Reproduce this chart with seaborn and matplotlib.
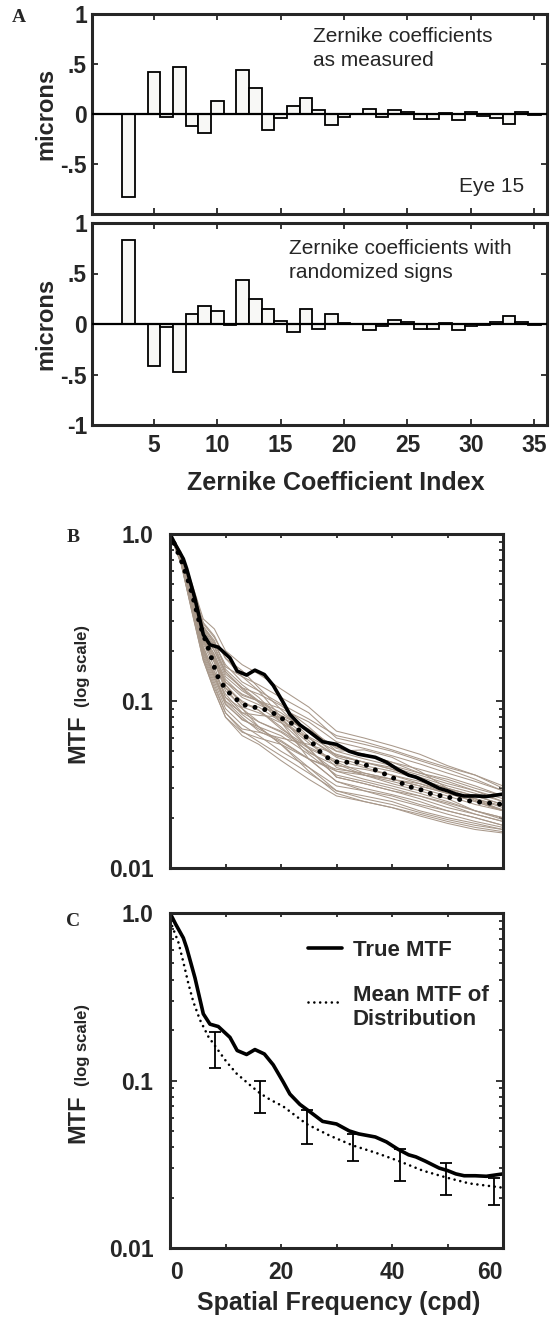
import pandas as pd
import matplotlib
matplotlib.use("Agg")
import matplotlib.pyplot as plt
import seaborn as sns
from matplotlib.lines import Line2D
from matplotlib.legend_handler import HandlerLine2D
from matplotlib.ticker import FixedLocator, NullFormatter

# Panel A: Zernike coefficients (index 3..35), microns
zern_index = list(range(3, 36))
coef_measured = [-0.83, 0.0, 0.42, -0.03, 0.47, -0.12, -0.19, 0.13, 0.005, 0.44, 0.26,
                 -0.16, -0.04, 0.08, 0.16, 0.04, -0.11, -0.03, 0.0, 0.05, -0.03, 0.04,
                 0.02, -0.05, -0.05, 0.015, -0.06, 0.025, -0.015, -0.04, -0.10, 0.025, -0.005]
coef_random = [0.83, 0.0, -0.42, -0.03, -0.48, 0.10, 0.18, 0.13, -0.01, 0.44, 0.25,
               0.15, 0.03, -0.08, 0.15, -0.05, 0.10, 0.01, 0.0, -0.06, -0.02, 0.04,
               0.02, -0.05, -0.05, 0.01, -0.06, -0.02, -0.01, 0.02, 0.08, 0.02, -0.01]

# Panel B/C: true MTF
true_freq = [0, 1, 2.4, 3, 4.5, 6, 7.2, 8.7, 10.8, 12.1, 13.8, 15.3, 17, 18.6, 20.4, 21.6,
             23.4, 25.5, 27.5, 30, 32.3, 34, 37, 39, 41, 43, 44.3, 46, 48.5, 50, 51.5,
             53, 55, 57, 60]
true_mtf = [1.0, 0.86, 0.71, 0.62, 0.41, 0.25, 0.217, 0.21, 0.181, 0.151, 0.143, 0.153,
            0.144, 0.124, 0.098, 0.083, 0.072, 0.064, 0.057, 0.055, 0.050, 0.048, 0.046,
            0.043, 0.039, 0.036, 0.035, 0.033, 0.030, 0.029, 0.0277, 0.027, 0.027,
            0.0268, 0.0277]

# Panel B: dotted mean of the sign-randomized distribution
meanB_freq = [0, 2, 3.5, 4.5, 5.4, 7.2, 7.8, 8.4, 9.3, 10.3, 11.7, 13.2, 15, 16.6, 18.3,
              20, 21.6, 23, 24.3, 25.7, 27.2, 28.7, 30.2, 32, 33.8, 35.6, 37.4, 39.2,
              40.7, 42.5, 44.3, 45.8, 47.6, 49.4, 51.2, 53, 54.8, 60]
meanB_mtf = [1.0, 0.70, 0.50, 0.377, 0.286, 0.194, 0.167, 0.144, 0.128, 0.115, 0.104,
             0.095, 0.092, 0.090, 0.086, 0.079, 0.075, 0.068, 0.062, 0.056, 0.049, 0.045,
             0.043, 0.043, 0.043, 0.041, 0.038, 0.036, 0.034, 0.031, 0.030, 0.029,
             0.0273, 0.027, 0.026, 0.0255, 0.025, 0.024]

# Panel B: individual MTFs with randomized signs
dist_freq = [0, 2, 4, 6, 8, 10, 13, 16, 20, 25, 30, 35, 40, 45, 50, 55, 60]
dist_curves = [
    [1, .767, .48, .29, .24, .18, .152, .12, .089, .061, .050, .051, .046, .038, .030, .0254, .0223],
    [1, .66, .34, .175, .115, .08, .062, .055, .044, .034, .027, .025, .023, .021, .019, .0175, .0165],
    [1, .72, .41, .235, .18, .125, .095, .092, .075, .052, .043, .037, .034, .031, .028, .026, .022],
    [1, .70, .37, .20, .145, .10, .085, .082, .080, .066, .053, .048, .043, .037, .034, .030, .027],
    [1, .74, .44, .26, .20, .15, .12, .10, .075, .045, .033, .029, .027, .024, .022, .020, .018],
    [1, .73, .42, .245, .19, .135, .108, .10, .081, .060, .046, .041, .038, .034, .030, .027, .024],
    [1, .685, .36, .195, .135, .095, .078, .068, .058, .045, .038, .036, .034, .032, .028, .025, .022],
    [1, .755, .46, .275, .225, .16, .14, .125, .105, .085, .060, .055, .050, .044, .039, .034, .029],
    [1, .705, .39, .22, .16, .105, .09, .075, .066, .052, .035, .032, .029, .027, .024, .021, .019],
    [1, .78, .50, .31, .27, .20, .165, .145, .118, .092, .066, .060, .054, .048, .041, .036, .030],
    [1, .67, .345, .18, .12, .085, .068, .065, .060, .055, .048, .043, .040, .036, .032, .029, .025],
    [1, .72, .40, .23, .17, .12, .09, .07, .055, .040, .029, .026, .024, .0215, .0195, .018, .017],
    [1, .735, .43, .25, .20, .14, .115, .10, .085, .065, .047, .043, .039, .035, .031, .028, .025],
    [1, .70, .38, .21, .15, .11, .085, .075, .065, .050, .038, .034, .031, .028, .025, .022, .0195],
    [1, .76, .47, .28, .23, .155, .125, .105, .078, .058, .040, .036, .032, .029, .026, .022, .020],
    [1, .675, .35, .185, .125, .085, .066, .057, .047, .037, .029, .027, .025, .022, .020, .0185, .017],
    [1, .725, .415, .24, .18, .13, .105, .095, .082, .068, .052, .048, .043, .039, .035, .031, .027],
    [1, .75, .45, .27, .215, .15, .118, .098, .077, .056, .042, .036, .033, .030, .027, .024, .022],
    [1, .71, .40, .225, .17, .115, .092, .085, .074, .060, .047, .043, .039, .034, .030, .027, .024],
    [1, .69, .37, .20, .14, .10, .080, .066, .057, .045, .033, .030, .0275, .025, .022, .020, .018],
    [1, .77, .48, .295, .245, .18, .14, .115, .080, .052, .035, .032, .029, .026, .023, .021, .019],
    [1, .665, .335, .175, .115, .08, .065, .060, .055, .045, .039, .037, .034, .031, .028, .025, .022],
    [1, .73, .42, .245, .19, .13, .11, .10, .090, .075, .057, .052, .047, .042, .037, .033, .029],
    [1, .70, .38, .21, .15, .105, .083, .070, .055, .038, .028, .025, .023, .0205, .0185, .017, .0162],
    [1, .745, .45, .265, .21, .145, .12, .11, .094, .070, .050, .045, .041, .037, .033, .029, .026],
    [1, .68, .355, .19, .13, .09, .072, .062, .050, .040, .031, .029, .026, .0235, .021, .019, .0175],
    [1, .715, .405, .23, .175, .12, .10, .088, .070, .049, .041, .039, .036, .032, .029, .026, .023],
    [1, .76, .465, .28, .22, .165, .13, .115, .096, .078, .062, .057, .051, .045, .040, .036, .031],
    [1, .695, .375, .205, .14, .097, .077, .070, .062, .048, .036, .033, .030, .027, .0245, .022, .020],
    [1, .725, .42, .24, .185, .125, .098, .088, .068, .053, .044, .040, .036, .033, .029, .026, .0235],
]

# Panel C: smooth mean MTF of distribution and error bars
meanC_freq = [0, 1.5, 2.4, 3.3, 4.2, 5.4, 6.9, 8.4, 10.2, 12, 14.4, 16.2, 18, 20.4, 24.6,
              28.7, 32.9, 37.1, 41.3, 45.5, 49.7, 53.9, 60]
meanC_mtf = [0.90, 0.67, 0.51, 0.38, 0.295, 0.23, 0.183, 0.156, 0.129, 0.110, 0.094, 0.084,
             0.077, 0.070, 0.055, 0.047, 0.041, 0.037, 0.033, 0.029, 0.0264, 0.0243, 0.0229]
err_freq = [8.1, 16.3, 24.7, 33.0, 41.4, 49.7, 58.4]
err_low = [0.119, 0.064, 0.042, 0.033, 0.025, 0.0207, 0.018]
err_high = [0.196, 0.100, 0.067, 0.048, 0.039, 0.032, 0.026]

sns.set_style("ticks")
plt.rcParams['font.family'] = ['Liberation Sans', 'DejaVu Sans']
plt.rcParams['font.weight'] = 'bold'

W, H = 556, 1318
fig = plt.figure(figsize=(W / 100, H / 100), dpi=100)
fig.patch.set_facecolor('white')


def add_axes_px(left, top, right, bottom):
    return fig.add_axes([left / W, 1 - bottom / H, (right - left) / W, (bottom - top) / H])


axA1 = add_axes_px(91.7, 14, 547, 214)
axA2 = add_axes_px(91.7, 223, 547, 425)
axB = add_axes_px(170, 534, 503, 868)
axC = add_axes_px(170, 913, 503, 1248)

gray = '#a8988a'

# --- Panel A bars
for ax, coefs in [(axA1, coef_measured), (axA2, coef_random)]:
    df = pd.DataFrame({"index": zern_index, "coef": coefs})
    sns.barplot(data=df, x="index", y="coef", native_scale=True, width=1.0,
                color='#f8f8f6', saturation=1, edgecolor='black', linewidth=1.3,
                errorbar=None, ax=ax)
    ax.axhline(0, color='black', lw=1.6, zorder=5)
    ax.set_xlim(0.1, 36)
    ax.set_ylim(-1, 1)
    ax.set_xticks([5, 10, 15, 20, 25, 30, 35])
    ax.set_yticks([-1, -0.5, 0, 0.5, 1])
    ax.set_xlabel("")
    ax.set_ylabel("")
    ax.tick_params(direction='in', top=True, right=True, length=4.5, width=1.3,
                   labelsize=16.5)
    ax.tick_params(axis='y', pad=3.4)
    ax.tick_params(axis='x', pad=6.5)
    for sp in ax.spines.values():
        sp.set_visible(True)
        sp.set_linewidth(2.2)
    ax.text(-0.10, 0.5, "microns", transform=ax.transAxes, rotation=90,
            ha='center', va='center', fontsize=17, fontweight='bold')

axA1.set_yticklabels(['', '-.5', '0', '.5', '1'])
axA1.tick_params(labelbottom=False)
axA2.set_yticklabels(['-1', '-.5', '0', '.5', '1'])

axA1.text(0.486, 0.935, "Zernike coefficients\nas measured", transform=axA1.transAxes,
          ha='left', va='top', fontsize=15, fontweight='normal', linespacing=1.35)
axA1.text(0.949, 0.135, "Eye 15", transform=axA1.transAxes, ha='right', va='center',
          fontsize=15, fontweight='normal')
axA2.text(0.434, 0.92, "Zernike coefficients with\nrandomized signs",
          transform=axA2.transAxes, ha='left', va='top', fontsize=15,
          fontweight='normal', linespacing=1.35)
axA2.set_xlabel("Zernike Coefficient Index", fontsize=18, fontweight='bold', va='center')
axA2.xaxis.set_label_coords(0.536, -0.287)

# --- Panel B curves
dist_df = pd.DataFrame(
    [(k, f, v) for k, curve in enumerate(dist_curves) for f, v in zip(dist_freq, curve)],
    columns=["curve", "freq", "mtf"])
sns.lineplot(data=dist_df, x="freq", y="mtf", units="curve", estimator=None,
             color=gray, lw=0.75, ax=axB)
sns.lineplot(x=true_freq, y=true_mtf, color='black', lw=2.6, ax=axB)
axB.plot(meanB_freq, meanB_mtf, color='black', lw=3.6, linestyle=(0, (0.01, 2.0)),
         dash_capstyle='round')

# --- Panel C curves
sns.lineplot(x=true_freq, y=true_mtf, color='black', lw=2.6, ax=axC)
axC.plot(meanC_freq, meanC_mtf, color='black', lw=1.9, linestyle=(0, (0.01, 2.2)),
         dash_capstyle='round')
err_mid = [(lo * hi) ** 0.5 for lo, hi in zip(err_low, err_high)]
axC.errorbar(err_freq, err_mid,
             yerr=[[m - lo for m, lo in zip(err_mid, err_low)],
                   [hi - m for m, hi in zip(err_mid, err_high)]],
             fmt='none', ecolor='black', elinewidth=1.3, capsize=4.5, capthick=1.3)

for ax in (axB, axC):
    ax.set_yscale('log')
    ax.set_xlim(0, 60)
    ax.set_ylim(0.01, 1.0)
    ax.set_xlabel("")
    ax.set_ylabel("")
    ax.yaxis.set_major_locator(FixedLocator([0.01, 0.1, 1.0]))
    ax.set_yticklabels(['0.01', '0.1', '1.0'])
    ax.yaxis.set_minor_locator(FixedLocator(
        [m * d for d in (0.01, 0.1) for m in range(2, 10)]))
    ax.yaxis.set_minor_formatter(NullFormatter())
    ax.set_xticks([0, 20, 40, 60])
    ax.xaxis.set_minor_locator(FixedLocator([10, 30, 50]))
    ax.tick_params(which='both', direction='in', top=True, right=True, width=1.3,
                   labelsize=16.5)
    ax.tick_params(axis='y', which='major', length=5, pad=12)
    ax.tick_params(axis='y', which='minor', length=3)
    ax.tick_params(axis='x', which='both', length=3, pad=9.4)
    for sp in ax.spines.values():
        sp.set_visible(True)
        sp.set_linewidth(2.2)
    ax.text(-0.278, 0.387, "MTF", transform=ax.transAxes, rotation=90,
            ha='center', va='center', fontsize=17, fontweight='bold')
    ax.text(-0.262, 0.605, "(log scale)", transform=ax.transAxes, rotation=90,
            ha='center', va='center', fontsize=12, fontweight='bold')

axB.tick_params(labelbottom=False)
xlabs = axC.get_xticklabels()
xlabs[0].set_ha('left')
xlabs[-1].set_ha('right')
axC.set_xlabel("Spatial Frequency (cpd)", fontsize=18, fontweight='bold', va='center')
axC.xaxis.set_label_coords(0.508, -0.164)


class FirstLineHandler(HandlerLine2D):
    # put the dotted sample level with the first line of a two-line label
    def create_artists(self, legend, orig_handle, xdescent, ydescent, width, height,
                       fontsize, trans):
        return super().create_artists(legend, orig_handle, xdescent, ydescent - 9,
                                      width, height, fontsize, trans)


true_handle = Line2D([], [], color='black', lw=2.6)
mean_handle = Line2D([], [], color='black', lw=1.9, linestyle=(0, (0.01, 2.2)),
                     dash_capstyle='round')
axC.legend([true_handle, mean_handle], ["True MTF", "Mean MTF of\nDistribution"],
           handler_map={mean_handle: FirstLineHandler()},
           loc='upper left', bbox_to_anchor=(0.415, 0.92), frameon=False, fontsize=16,
           handlelength=1.5, handletextpad=0.5, labelspacing=1.1, borderaxespad=0,
           borderpad=0)

# Panel letters
for letter, x, y in [("A", 19, 18), ("B", 73, 538), ("C", 73, 922)]:
    fig.text(x / W, 1 - y / H, letter, ha='center', va='center', fontsize=14,
             fontweight='bold', family=['Liberation Serif', 'DejaVu Serif'])

fig.savefig("out.png", dpi=100, facecolor='white')
